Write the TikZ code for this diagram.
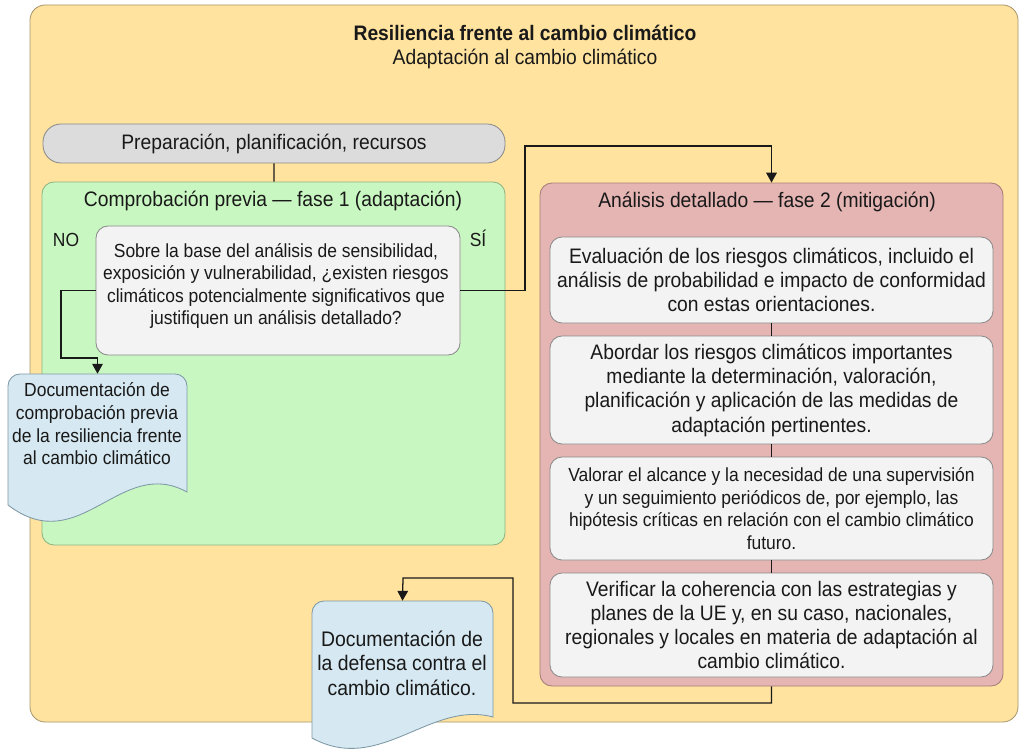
\documentclass[tikz,border=0pt]{standalone}
\usepackage{fontspec}
\setmainfont{Liberation Sans}[FakeStretch=0.92]
\usetikzlibrary{positioning,fit,arrows.meta}

\definecolor{frameyellow}{HTML}{FFE39F}
\definecolor{frameline}{HTML}{A8976E}
\definecolor{greenfill}{HTML}{C9F7C1}
\definecolor{greenline}{HTML}{8DB483}
\definecolor{redfill}{HTML}{E4B5B3}
\definecolor{redline}{HTML}{A67C7A}
\definecolor{stepfill}{HTML}{F3F3F3}
\definecolor{prepfill}{HTML}{DCDCDC}
\definecolor{docfill}{HTML}{D6E8F1}
\definecolor{docline}{HTML}{7D99A6}
\definecolor{boxline}{HTML}{8A8A8A}

\newcommand{\bigtext}{\fontsize{14.9}{17.3}\selectfont}
\newcommand{\smalltext}{\fontsize{13.5}{16.1}\selectfont}
\newcommand{\doctextsize}{\fontsize{15}{17.5}\selectfont}

\tikzset{
  framebox/.style={fill=frameyellow, draw=frameline, line width=0.6pt, rounded corners=0.38cm, inner sep=0pt},
  phasebox/.style={line width=0.6pt, rounded corners=0.3cm, inner sep=0pt},
  stepbox/.style={fill=stepfill, draw=boxline, line width=0.6pt, rounded corners=0.3cm, inner sep=0pt},
  pillbox/.style={fill=prepfill, draw=boxline, line width=0.6pt, rounded corners=0.45cm, inner sep=0pt},
  docshape/.style={fill=docfill, draw=docline, line width=0.6pt},
  boxtext/.style={align=center, inner sep=0pt, text=black!90},
  heading/.style={inner sep=0pt, text=black!90},
  link/.style={line width=0.9pt, draw=black!90},
  flow/.style={link, -{Triangle[width=7.5pt,length=7pt]}}
}

\begin{document}
\begin{tikzpicture}[x=0.025cm, y=-0.025cm, font=\bigtext]
  \fill[white] (0,0) rectangle (1024,755);
  \useasboundingbox (0,0) rectangle (1024,755);

  % outer frame
  \node[framebox, fit={(30,5) (1018,722)}] (frame) {};
  \node[heading, font=\bigtext\bfseries] (title) at (525,33) {Resiliencia frente al cambio climático};
  \node[heading] (subtitle) at (525,59) {Adaptación al cambio climático};

  % phase 1
  \node[pillbox, fit={(43,124) (505,163)}] (prep) {};
  \node[boxtext] (preptext) at (prep.center) {Preparación, planificación, recursos};
  \node[phasebox, fill=greenfill, draw=greenline, fit={(42,182) (505,545)}] (phaseone) {};
  \node[heading] (phaseonetitle) at (273,201) {Comprobación previa — fase 1 (adaptación)};
  \node[heading, font=\smalltext] (no) at (66,240) {NO};
  \node[heading, font=\smalltext] (si) at (478,238) {SÍ};
  \node[stepbox, fit={(96,226) (460,355)}] (question) {};
  \node[boxtext, font=\smalltext] (questiontext) at (276,286)
    {Sobre la base del análisis de sensibilidad,\\
     exposición y vulnerabilidad, ¿existen riesgos\\
     climáticos potencialmente significativos que\\
     justifiquen un análisis detallado?};

  % phase 2
  \node[phasebox, fill=redfill, draw=redline, fit={(540,183) (1003,686)}] (phasetwo) {};
  \node[heading] (phasetwotitle) at (767,202) {Análisis detallado — fase 2 (mitigación)};
  \node[stepbox, fit={(550,237) (993,323)}] (evaluate) {};
  \node[boxtext] (evaluatetext) at (evaluate.center)
    {Evaluación de los riesgos climáticos, incluido el\\
     análisis de probabilidad e impacto de conformidad\\
     con estas orientaciones.};
  \node[stepbox, fit={(550,336) (993,444)}] (address) {};
  \node[boxtext] (addresstext) at (address.center)
    {Abordar los riesgos climáticos importantes\\
     mediante la determinación, valoración,\\
     planificación y aplicación de las medidas de\\
     adaptación pertinentes.};
  \node[stepbox, fit={(550,457) (993,560)}] (monitor) {};
  \node[boxtext, font=\smalltext] (monitortext) at (monitor.center)
    {Valorar el alcance y la necesidad de una supervisión\\
     y un seguimiento periódicos de, por ejemplo, las\\
     hipótesis críticas en relación con el cambio climático\\
     futuro.};
  \node[stepbox, fit={(550,573) (993,677)}] (verify) {};
  \node[boxtext] (verifytext) at (verify.center)
    {Verificar la coherencia con las estrategias y\\
     planes de la UE y, en su caso, nacionales,\\
     regionales y locales en materia de adaptación al\\
     cambio climático.};

  % documents
  \node[inner sep=0pt, fit={(8,374) (187,492)}] (docprev) {};
  \draw[docshape] (8,460) [rounded corners=0.3cm] -- (8,374) -- (187,374) -- (187,460)
    [sharp corners] -- (187,492) .. controls (120,455) and (80,560) .. (8,505) -- cycle;
  \node[boxtext, font=\smalltext] (docprevtext) at (97,424)
    {Documentación de\\comprobación previa\\de la resiliencia frente\\al cambio climático};

  \node[inner sep=0pt, fit={(312,601) (493,717)}] (docdef) {};
  \draw[docshape] (312,680) [rounded corners=0.3cm] -- (312,601) -- (493,601) -- (493,680)
    [sharp corners] -- (493,717) .. controls (430,700) and (380,775) .. (312,738) -- cycle;
  \node[boxtext, font=\doctextsize] (docdeftext) at (402,663)
    {Documentación de\\la defensa contra el\\cambio climático.};

  % connectors
  \coordinate (sibend) at (525,146);
  \coordinate (nobend) at (61,358);
  \coordinate (outbend) at (513,703);
  \coordinate (backbend) at (403,578);
  \draw[link] (prep) -- (phaseone);
  \draw[flow] (question.east) -| (sibend) -| (phasetwo.north);
  \draw[flow] (question.west) -| (nobend) -| (docprev.north);
  \draw[link] (evaluate) -- (address);
  \draw[link] (address) -- (monitor);
  \draw[link] (monitor) -- (verify);
  \draw[flow] (phasetwo.south) |- (outbend) |- (backbend) -- (docdef.north);
\end{tikzpicture}
\end{document}
